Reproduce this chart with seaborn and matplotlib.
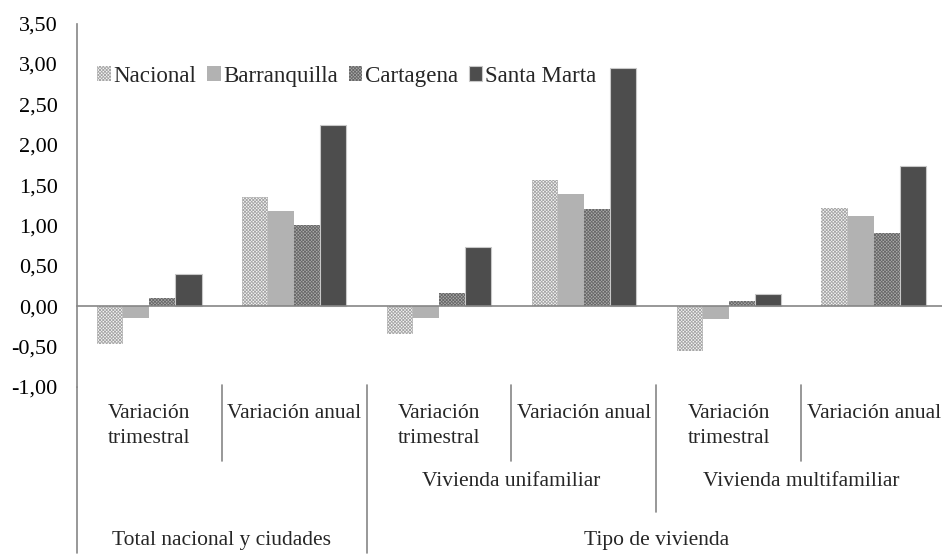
import matplotlib
matplotlib.use("Agg")
import matplotlib.pyplot as plt
import matplotlib.transforms as mtransforms
from matplotlib.lines import Line2D
import seaborn as sns
import pandas as pd

# ---- data ----
groups = ["g0", "g1", "g2", "g3", "g4", "g5"]
level1_labels = ["Variación\ntrimestral", "Variación anual",
                 "Variación\ntrimestral", "Variación anual",
                 "Variación\ntrimestral", "Variación anual"]
level2_labels = ["Vivienda unifamiliar", "Vivienda multifamiliar"]
level3_labels = ["Total nacional y ciudades", "Tipo de vivienda"]
series = ["Nacional", "Barranquilla", "Cartagena", "Santa Marta"]
nacional = [-0.47, 1.35, -0.35, 1.56, -0.55, 1.22]
barranquilla = [-0.15, 1.18, -0.15, 1.39, -0.16, 1.12]
cartagena = [0.10, 1.01, 0.16, 1.20, 0.06, 0.91]
santa_marta = [0.40, 2.24, 0.73, 2.95, 0.15, 1.73]
yticks = [-1.0, -0.5, 0.0, 0.5, 1.0, 1.5, 2.0, 2.5, 3.0, 3.5]

rows = []
for name, vals in zip(series, [nacional, barranquilla, cartagena, santa_marta]):
    for g, v in zip(groups, vals):
        rows.append({"grupo": g, "serie": name, "valor": v})
df = pd.DataFrame(rows)

sns.set_style("white")
plt.rcParams["font.family"] = ["Liberation Serif", "DejaVu Serif"]
plt.rcParams["hatch.linewidth"] = 0.6

W, H = 942, 557
fig = plt.figure(figsize=(W / 100, H / 100), dpi=100)
ax_left, ax_right = 77, 946
ax_top, ax_bot = 23.5, 387
ax = fig.add_axes([ax_left / W, 1 - ax_bot / H, (ax_right - ax_left) / W, (ax_bot - ax_top) / H])

sns.barplot(data=df, x="grupo", y="valor", hue="serie", order=groups, hue_order=series,
            width=0.72, gap=0, ax=ax, legend=False, errorbar=None)

styles = [
    dict(facecolor="#f6f6f6", edgecolor="#a6a6a6", hatch="x" * 10, linewidth=0),
    dict(facecolor="#b2b2b2", edgecolor="#b2b2b2", hatch=None, linewidth=0),
    dict(facecolor="#ababab", edgecolor="#686868", hatch="x" * 10, linewidth=0),
    dict(facecolor="#4d4d4d", edgecolor="#c8c8c8", hatch=None, linewidth=0.8),
]
for cont, st in zip(ax.containers, styles):
    for p in cont.patches:
        p.set_facecolor(st["facecolor"])
        p.set_edgecolor(st["edgecolor"])
        p.set_linewidth(st["linewidth"])
        if st["hatch"]:
            p.set_hatch(st["hatch"])

ax.set_xlim(-0.5, 5.5)
ax.set_ylim(-1.0, 3.5)
ax.set_yticks(yticks)
ax.set_yticklabels([f"{t:.2f}".replace(".", ",") for t in yticks], fontsize=16)
ax.set_xlabel("")
ax.set_ylabel("")
ax.set_xticks([0.5, 1.5, 2.5, 3.5, 4.5])
ax.set_xticklabels([])

axis_c = "#868686"
for s in ["top", "right"]:
    ax.spines[s].set_visible(False)
ax.spines["left"].set_color(axis_c)
ax.spines["left"].set_linewidth(1.2)
ax.spines["bottom"].set_position(("data", 0))
ax.spines["bottom"].set_color(axis_c)
ax.spines["bottom"].set_linewidth(1.2)
ax.tick_params(axis="y", direction="out", length=5, width=1.2, color=axis_c, pad=9, labelcolor="black")
ax.tick_params(axis="x", direction="out", length=5, width=1.2, color=axis_c)

leg = ax.legend(ax.containers, series, loc="upper left", bbox_to_anchor=(0.023, 0.884),
                ncol=4, frameon=False, fontsize=16.6, handlelength=0.6, handleheight=0.6,
                handletextpad=0.12, columnspacing=0.45, borderpad=0, borderaxespad=0)

# extend left axis line down through category area
blend_fig = mtransforms.blended_transform_factory(ax.transAxes, fig.transFigure)
fig.add_artist(Line2D([0, 0], [1 - ax_bot / H, 1 - 553 / H], transform=blend_fig,
                      color=axis_c, lw=1.2))

tr = mtransforms.blended_transform_factory(ax.transData, fig.transFigure)
sep = {0.5: 461, 1.5: 553, 2.5: 461, 3.5: 512, 4.5: 461}
for xv, yend in sep.items():
    fig.add_artist(Line2D([xv, xv], [1 - 385 / H, 1 - yend / H], transform=tr,
                          color=axis_c, lw=1.2))

fs = 15.5
for i, lab in enumerate(level1_labels):
    ax.text(i, 1 - 404 / H, lab, transform=tr, ha="center", va="top", fontsize=fs,
            linespacing=1.45, clip_on=False)
for xc, lab in zip([2.5, 4.5], level2_labels):
    ax.text(xc, 1 - 481 / H, lab, transform=tr, ha="center", va="center", fontsize=fs, clip_on=False)
for xc, lab in zip([0.5, 3.5], level3_labels):
    ax.text(xc, 1 - 540 / H, lab, transform=tr, ha="center", va="center", fontsize=fs, clip_on=False)

fig.savefig("out.png", dpi=100)
